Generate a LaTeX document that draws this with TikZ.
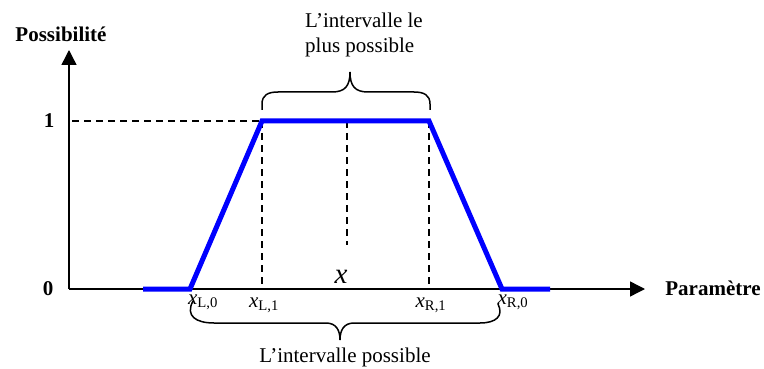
\documentclass[tikz,border=0pt]{standalone}
\usepackage{fontspec}
\setmainfont{Liberation Serif}
\usetikzlibrary{arrows.meta}

\begin{document}
\begin{tikzpicture}[x=1pt, y=-1pt,
  axe/.style={line width=1.4pt, -{Triangle[length=15pt,width=15pt]}},
  guide/.style={line width=1.2pt, dash pattern=on 7pt off 5pt},
  courbe/.style={blue, line width=5pt, line join=miter},
  accolade/.style={line width=1.5pt},
  lbl/.style={font=\fontsize{21}{25}\selectfont},
  titre/.style={font=\fontsize{21}{24}\selectfont\bfseries},
  pt/.style={font=\fontsize{21}{24}\selectfont, inner sep=0pt}
]
\useasboundingbox (0,0) rectangle (764,369);

% axes
\coordinate (O) at (69,289);
\coordinate (ytop) at (69,50);
\coordinate (xend) at (645,289);
\draw[axe] (O) -- (ytop);
\draw[axe] (O) -- (xend);

\node[titre] (poss) at (61,34) {Possibilité};
\node[titre] (param) at (713,288) {Paramètre};
\node[titre] (un) at (49,121) {1};
\node[titre] (zero) at (48,289) {0};

% trapeze
\coordinate (a) at (143,289);
\coordinate (L0) at (190,289);
\coordinate (L1) at (262,121);
\coordinate (M) at (347,121);
\coordinate (R1) at (429,121);
\coordinate (R0) at (502,289);
\coordinate (b) at (550,289);

\draw[guide] (72,121) -- (L1);
\draw[guide] (L1) -- (L1 |- O);
\draw[guide] (M) -- (347,245);
\draw[guide] (R1) -- (R1 |- O);
\draw[courbe] (a) -- (L0) -- (L1) -- (R1) -- (R0) -- (b);

\node[font=\fontsize{29}{30}\selectfont\itshape, inner sep=0pt] (x) at (341,277) {x};

\node[pt] (xL0) at (203,302) {\textit{x}\textsubscript{L,0}};
\node[pt] (xL1) at (264,305) {\textit{x}\textsubscript{L,1}};
\node[pt] (xR1) at (431,305) {\textit{x}\textsubscript{R,1}};
\node[pt] (xR0) at (513,302) {\textit{x}\textsubscript{R,0}};

% accolades
\draw[accolade] (262,110) -- (262,104) .. controls (262,95) and (268,92) .. (278,92)
  -- (332,92) .. controls (345,92) and (350,86) .. (350,72)
  .. controls (350,86) and (355,92) .. (368,92)
  -- (414,92) .. controls (424,92) and (430,95) .. (430,104) -- (430,110);
\draw[accolade] (193,301) .. controls (185,316) and (196,323) .. (214,323)
  -- (326,323) .. controls (336,323) and (340,330) .. (340,340)
  .. controls (340,330) and (344,323) .. (354,323)
  -- (480,323) .. controls (496,323) and (504,316) .. (498,304);

\node[lbl, align=left, anchor=north west, inner sep=0pt] (haut) at (305,13)
  {L’intervalle le\\plus possible};
\node[lbl] (bas) at (345,357) {L’intervalle possible};
\end{tikzpicture}
\end{document}
